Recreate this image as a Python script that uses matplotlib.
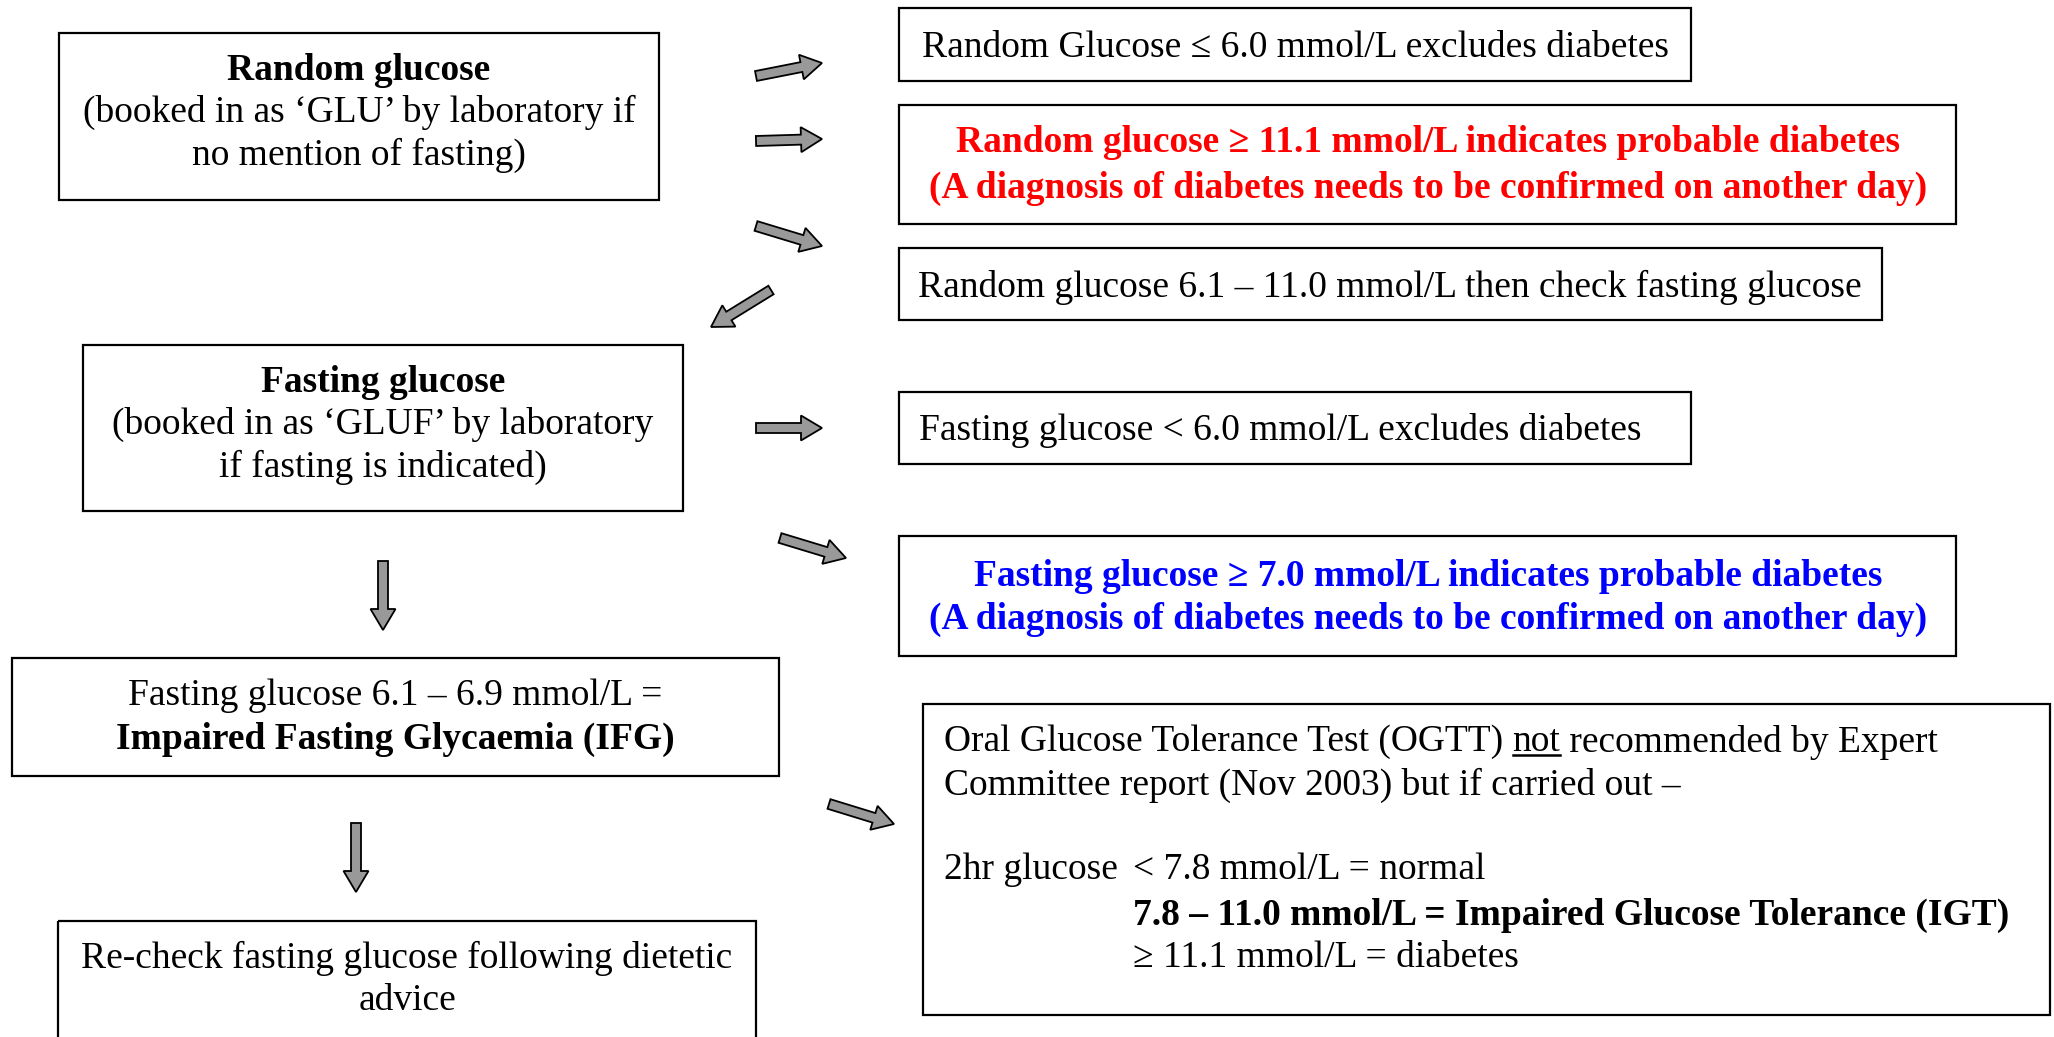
import matplotlib
matplotlib.use("Agg")
import matplotlib.pyplot as plt
import matplotlib.patches as mpatches

plt.rcParams['font.family'] = ['Liberation Serif', 'DejaVu Serif']

# ---- texts of the flowchart ----
random_box = ["Random glucose",
              "(booked in as \u2018GLU\u2019 by laboratory if",
              "no mention of fasting)"]
fasting_box = ["Fasting glucose",
               "(booked in as \u2018GLUF\u2019 by laboratory",
               "if fasting is indicated)"]
ifg_box = ["Fasting glucose 6.1 \u2013 6.9 mmol/L =",
           "Impaired Fasting Glycaemia (IFG)"]
recheck_box = ["Re-check fasting glucose following dietetic",
               "advice"]
rand_excl = "Random Glucose \u2264 6.0 mmol/L excludes diabetes"
rand_diab = ["Random glucose \u2265 11.1 mmol/L indicates probable diabetes",
             "(A diagnosis of diabetes needs to be confirmed on another day)"]
rand_mid = "Random glucose 6.1 \u2013 11.0 mmol/L then check fasting glucose"
fast_excl = "Fasting glucose < 6.0 mmol/L excludes diabetes"
fast_diab = ["Fasting glucose \u2265 7.0 mmol/L indicates probable diabetes",
             "(A diagnosis of diabetes needs to be confirmed on another day)"]
ogtt_head = ["Oral Glucose Tolerance Test (OGTT) ", "not",
             " recommended by Expert"]
ogtt_line2 = "Committee report (Nov 2003) but if carried out \u2013"
ogtt_label = "2hr glucose"
ogtt_rows = ["< 7.8 mmol/L = normal",
             "7.8 \u2013 11.0 mmol/L = Impaired Glucose Tolerance (IGT)",
             "\u2265 11.1 mmol/L = diabetes"]

W, H = 2054, 1037
FS = 27
DY = 3  # small baseline nudge

fig = plt.figure(figsize=(W / 100, H / 100), dpi=100)
ax = fig.add_axes([0, 0, 1, 1])
ax.set_xlim(0, W)
ax.set_ylim(H, 0)
ax.axis('off')


def box(x0, y0, x1, y1):
    ax.add_patch(mpatches.Rectangle((x0, y0), x1 - x0, y1 - y0, fill=False,
                                    ec='black', lw=1.6))


def arrow(x0, y0, x1, y1):
    ax.add_patch(mpatches.FancyArrow(x0, y0, x1 - x0, y1 - y0, width=10,
                                     head_width=25, head_length=21,
                                     length_includes_head=True,
                                     fc='#999999', ec='black', lw=1.3))


def txt(x, y, s, bold=False, color='black', ha='center'):
    return ax.text(x, y + DY, s, fontsize=FS, ha=ha, va='center', color=color,
                   fontweight='bold' if bold else 'normal')


# boxes
box(59, 33, 659, 200)
box(899, 8, 1691, 81)
box(899, 105, 1956, 224)
box(899, 248, 1882, 320)
box(83, 345, 683, 511)
box(899, 392, 1691, 464)
box(899, 536, 1956, 656)
box(12, 658, 779, 776)
box(923, 704, 2050, 1015)
box(58, 921, 756, 1045)

# arrows
arrow(756, 76, 822, 63)
arrow(756, 141, 822, 139)
arrow(756, 226, 822, 246)
arrow(771, 290, 711, 327)
arrow(756, 428, 822, 428)
arrow(780, 538, 846, 558)
arrow(383, 561, 383, 630)
arrow(356, 823, 356, 892)
arrow(829, 804, 894, 824)

# left column text
txt(359, 67, random_box[0], bold=True)
txt(359, 109, random_box[1])
txt(359, 152, random_box[2])

txt(383, 379, fasting_box[0], bold=True)
txt(383, 421, fasting_box[1])
txt(383, 464, fasting_box[2])

txt(395, 693, ifg_box[0])
txt(395, 736, ifg_box[1], bold=True)

txt(407, 955, recheck_box[0])
txt(407, 998, recheck_box[1])

# right column text
txt(1295, 45, rand_excl)
txt(1428, 140, rand_diab[0], bold=True, color='#FF0000')
txt(1428, 185, rand_diab[1], bold=True, color='#FF0000')
txt(1390, 284, rand_mid)
txt(1280, 427, fast_excl)
txt(1428, 574, fast_diab[0], bold=True, color='#0000FF')
txt(1428, 616, fast_diab[1], bold=True, color='#0000FF')

# OGTT box, with the underlined word
fig.canvas.draw()
r = fig.canvas.get_renderer()
inv = ax.transData.inverted()
x = 944
for i, part in enumerate(ogtt_head):
    t = txt(x, 739, part, ha='left')
    bb = t.get_window_extent(renderer=r)
    (bx0, by0), (bx1, by1) = inv.transform([[bb.x0, bb.y0], [bb.x1, bb.y1]])
    if i == 1:
        ax.plot([bx0, bx1], [755, 755], color='black', lw=1.8)
    x = bx1
txt(944, 782, ogtt_line2, ha='left')
txt(944, 867, ogtt_label, ha='left')
txt(1133, 867, ogtt_rows[0], ha='left')
txt(1133, 912, ogtt_rows[1], bold=True, ha='left')
txt(1133, 955, ogtt_rows[2], ha='left')

fig.savefig('out.png', dpi=100)
